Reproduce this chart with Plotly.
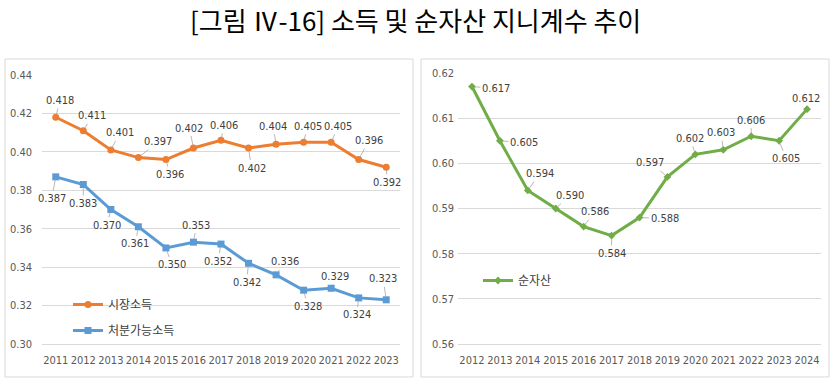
import plotly.graph_objects as go

# ---- data ----
years_left = ["2011", "2012", "2013", "2014", "2015", "2016", "2017", "2018", "2019", "2020", "2021", "2022", "2023"]
market_income = [0.418, 0.411, 0.401, 0.397, 0.396, 0.402, 0.406, 0.402, 0.404, 0.405, 0.405, 0.396, 0.392]
disposable_income = [0.387, 0.383, 0.370, 0.361, 0.350, 0.353, 0.352, 0.342, 0.336, 0.328, 0.329, 0.324, 0.323]

years_right = ["2012", "2013", "2014", "2015", "2016", "2017", "2018", "2019", "2020", "2021", "2022", "2023", "2024"]
net_assets = [0.617, 0.605, 0.594, 0.590, 0.586, 0.584, 0.588, 0.597, 0.602, 0.603, 0.606, 0.605, 0.612]

left_ticks = [0.30, 0.32, 0.34, 0.36, 0.38, 0.40, 0.42, 0.44]
right_ticks = [0.56, 0.57, 0.58, 0.59, 0.60, 0.61, 0.62]

title_text = "[그림 Ⅳ-16] 소득 및 순자산 지니계수 추이"

# ---- label placement (pixel offsets of label centre from the point) ----
market_off = [(4, -17), (9, -15), (9, -17), (20, -16), (4, 15), (-4, -20), (3, -15),
              (3, 20), (-3, -18), (4, -16), (7, -16), (10, -19), (1, 15)]
disp_off = [(-4, 22), (0, 19), (-4, 16), (-3, 17), (6, 17), (3, -17), (-3, 17),
            (-2, 19), (9, -13), (4, 16), (4, -12), (-2, 17), (-3, -21)]
net_off = [(24, 2), (24, 2), (12, -17), (14, -13), (11, -15), (0, 18), (25, 1),
           (-17, -14), (-5, -16), (-2, -17), (0, -16), (7, 18), (-1, -11)]

W, H = 834, 382
ORANGE = "#ED7D31"
BLUE = "#5B9BD5"
GREEN = "#70AD47"
GRID = "#D9D9D9"
NARROW = "Liberation Sans Narrow, DejaVu Sans Condensed, Arial Narrow, sans-serif"
TICKFONT = dict(family=NARROW, size=11, color="#595959")
LABELFONT = dict(family=NARROW, size=11, color="#404040")
KFONT = "Noto Sans CJK KR, sans-serif"


def px_x(p):
    return p / W


def px_y(p):
    return 1 - p / H


fig = go.Figure()

fig.add_trace(go.Scatter(x=years_left, y=market_income, mode="lines+markers", name="시장소득",
                         line=dict(color=ORANGE, width=3), marker=dict(symbol="circle", size=7, color=ORANGE),
                         xaxis="x", yaxis="y", legend="legend", legendgroup="a"))
fig.add_trace(go.Scatter(x=years_left, y=disposable_income, mode="lines+markers", name="처분가능소득",
                         line=dict(color=BLUE, width=3), marker=dict(symbol="square", size=7, color=BLUE),
                         xaxis="x", yaxis="y", legend="legend", legendgroup="b"))
fig.add_trace(go.Scatter(x=years_right, y=net_assets, mode="lines+markers", name="순자산",
                         line=dict(color=GREEN, width=3), marker=dict(symbol="diamond", size=6, color=GREEN),
                         xaxis="x2", yaxis="y2", legend="legend2"))

annotations = []


def add_labels(ys, offs, xref, yref):
    for i, (yv, (dx, dy)) in enumerate(zip(ys, offs)):
        annotations.append(dict(
            x=i, y=yv, xref=xref, yref=yref, text=f"{yv:.3f}",
            showarrow=True, arrowhead=0, arrowwidth=0.8, arrowcolor="#A6A6A6",
            ax=dx, ay=dy, standoff=3, font=LABELFONT,
        ))


add_labels(market_income, market_off, "x", "y")
add_labels(disposable_income, disp_off, "x", "y")
add_labels(net_assets, net_off, "x2", "y2")

annotations.append(dict(x=px_x(415), y=px_y(20), xref="paper", yref="paper", text=title_text,
                        showarrow=False, font=dict(family=KFONT, size=26, color="#000000"),
                        xanchor="center", yanchor="middle"))

shapes = [
    dict(type="rect", xref="paper", yref="paper", x0=px_x(5), x1=px_x(413), y0=px_y(377), y1=px_y(59),
         line=dict(color=GRID, width=1)),
    dict(type="rect", xref="paper", yref="paper", x0=px_x(421), x1=px_x(829), y0=px_y(377), y1=px_y(59),
         line=dict(color=GRID, width=1)),
]

fig.update_layout(
    width=W, height=H, autosize=False,
    margin=dict(l=0, r=0, t=0, b=0, pad=0),
    paper_bgcolor="white", plot_bgcolor="white",
    showlegend=True,
    annotations=annotations,
    shapes=shapes,
    xaxis=dict(domain=[px_x(42), px_x(400)], type="category", range=[-0.5, 12.5],
               showgrid=False, showline=True, linecolor=GRID, tickfont=TICKFONT,
               ticks="", ticklabelstandoff=6, anchor="y", automargin=False),
    yaxis=dict(domain=[px_y(344), px_y(75)], range=[0.30, 0.44], tickvals=left_ticks,
               tickformat=".2f", showgrid=True, gridcolor=GRID, gridwidth=1, zeroline=False,
               tickfont=TICKFONT, ticklabelstandoff=9, anchor="x", showline=False, automargin=False),
    xaxis2=dict(domain=[px_x(458), px_x(821)], type="category", range=[-0.5, 12.5],
                showgrid=False, showline=True, linecolor=GRID, tickfont=TICKFONT,
                ticks="", ticklabelstandoff=6, anchor="y2", automargin=False),
    yaxis2=dict(domain=[px_y(344), px_y(73)], range=[0.56, 0.62], tickvals=right_ticks,
                tickformat=".2f", showgrid=True, gridcolor=GRID, gridwidth=1, zeroline=False,
                tickfont=TICKFONT, ticklabelstandoff=3, anchor="x2", showline=False, automargin=False),
    legend=dict(x=px_x(68), y=px_y(290), xanchor="left", yanchor="top", bgcolor="rgba(0,0,0,0)",
                font=dict(family=KFONT, size=12, color="#404040"), tracegroupgap=7,
                itemwidth=30),
    legend2=dict(x=px_x(478), y=px_y(266), xanchor="left", yanchor="top", bgcolor="rgba(0,0,0,0)",
                 font=dict(family=KFONT, size=12, color="#404040"), itemwidth=30),
)

fig.write_html("out.html", config={"displayModeBar": False},
               post_script="document.body.style.margin='0';document.body.style.padding='0';")
